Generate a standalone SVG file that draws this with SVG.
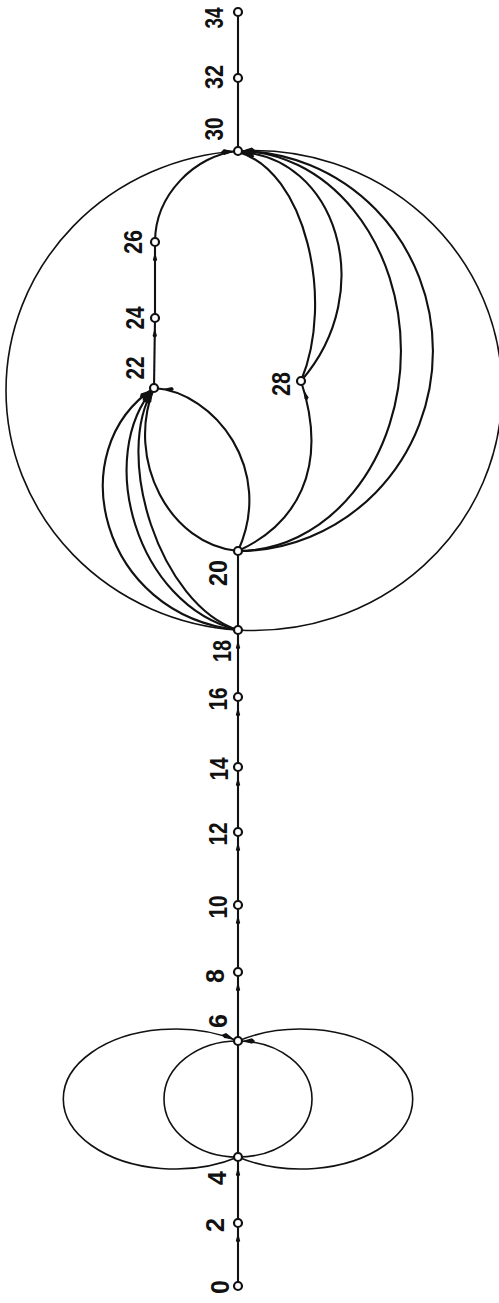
<svg xmlns="http://www.w3.org/2000/svg" width="499" height="1303" viewBox="0 0 499 1303">
<style>
.e{fill:none;stroke:#111;stroke-width:2.1}
.t{fill:none;stroke:#111;stroke-width:1.6}
.n{fill:#fff;stroke:#111;stroke-width:2.2}
.l{font-family:"Liberation Sans",Arial,sans-serif;font-size:25px;font-weight:bold;fill:#111;text-anchor:middle;dominant-baseline:central}
</style>
<defs>
<marker id="a" markerUnits="userSpaceOnUse" viewBox="0 0 10 6" markerWidth="10" markerHeight="6" refX="20" refY="3" orient="auto" overflow="visible">
<path d="M0,3 L2,0.8 L10,3 L2,5.2 z" fill="#111"/>
</marker>
<marker id="c" markerUnits="userSpaceOnUse" viewBox="0 0 13 6" markerWidth="13" markerHeight="6" refX="17" refY="3" orient="auto" overflow="visible">
<path d="M0,3 L3,0.3 L13,3 L3,5.7 z" fill="#111"/>
</marker>
</defs>
<rect width="499" height="1303" fill="#fff"/>
<g id="connectors">
<path class="e" d="M238,1286 L238,1223" marker-end="url(#a)"/>
<path class="e" d="M238,1223 L238,1157" marker-end="url(#a)"/>
<path class="e" d="M238,1157 L238,1041"/>
<path class="e" d="M238,1041 L238,972" marker-end="url(#a)"/>
<path class="e" d="M238,972 L238,905" marker-end="url(#a)"/>
<path class="e" d="M238,905 L238,832" marker-end="url(#a)"/>
<path class="e" d="M238,832 L238,767" marker-end="url(#a)"/>
<path class="e" d="M238,767 L238,697" marker-end="url(#a)"/>
<path class="e" d="M238,697 L238,630" marker-end="url(#a)"/>
<path class="e" d="M238,630 L238,551"/>
<path class="e" d="M154,388 L155,318" marker-end="url(#a)"/>
<path class="e" d="M155,318 L155,242" marker-end="url(#a)"/>
<path class="e" d="M238,151 L238,78"/>
<path class="e" d="M238,78 L238,12"/>
<path class="e" d="M155,242 C155,195 195,155 238,151" marker-end="url(#c)"/>
<path class="t" d="M238,630 A248,240 0 0 1 238,151" marker-end="url(#c)"/>
<path class="t" d="M238,630 A248,240 0 1 0 238,151" marker-end="url(#c)"/>
<path class="e" d="M238,551 A163,200 0 0 0 238,151" marker-end="url(#c)"/>
<path class="e" d="M238,551 A195,200 0 0 0 238,151" marker-end="url(#c)"/>
<path class="e" d="M301,381 C335,300 305,170 238,152" marker-end="url(#c)"/>
<path class="e" d="M301,381 C380,290 335,155 238,152" marker-end="url(#c)"/>
<path class="e" d="M238,551 C295,525 330,470 301,381" marker-end="url(#a)"/>
<path class="e" d="M238,551 C275,470 215,392 154,388" marker-end="url(#a)"/>
<path class="e" d="M238,551 C170,545 125,460 154,388" marker-end="url(#c)"/>
<path class="e" d="M238,630 C100,615 60,450 154,388" marker-end="url(#c)"/>
<path class="e" d="M238,630 C135,605 95,455 154,388" marker-end="url(#c)"/>
<path class="e" d="M238,630 C160,605 112,455 154,388" marker-end="url(#c)"/>
<path class="t" d="M238,1157 A112,70 0 1 1 238,1041" marker-end="url(#c)"/>
<path class="t" d="M238,1157 A112,70 0 1 0 238,1041"/>
<path class="t" d="M238,1157 A74,58 0 0 1 238,1041"/>
<path class="t" d="M238,1157 A74,58 0 0 0 238,1041" marker-end="url(#c)"/>
</g>
<g id="n0"><circle class="n" cx="238" cy="1286" r="4"/><text class="l" transform="translate(220,1287) rotate(-90)">0</text></g>
<g id="n2"><circle class="n" cx="238" cy="1223" r="4"/><text class="l" transform="translate(215,1225) rotate(-90)">2</text></g>
<g id="n4"><circle class="n" cx="238" cy="1157" r="4"/><text class="l" transform="translate(217,1178) rotate(-90)">4</text></g>
<g id="n6"><circle class="n" cx="238" cy="1041" r="4"/><text class="l" transform="translate(218,1021) rotate(-90)">6</text></g>
<g id="n8"><circle class="n" cx="238" cy="972" r="4"/><text class="l" transform="translate(215,976) rotate(-90)">8</text></g>
<g id="n10"><circle class="n" cx="238" cy="905" r="4"/><text class="l" transform="translate(218,907) rotate(-90)" textLength="23" lengthAdjust="spacingAndGlyphs">10</text></g>
<g id="n12"><circle class="n" cx="238" cy="832" r="4"/><text class="l" transform="translate(218,834) rotate(-90)" textLength="23" lengthAdjust="spacingAndGlyphs">12</text></g>
<g id="n14"><circle class="n" cx="238" cy="767" r="4"/><text class="l" transform="translate(219,769) rotate(-90)" textLength="23" lengthAdjust="spacingAndGlyphs">14</text></g>
<g id="n16"><circle class="n" cx="238" cy="697" r="4"/><text class="l" transform="translate(218,699) rotate(-90)" textLength="23" lengthAdjust="spacingAndGlyphs">16</text></g>
<g id="n18"><circle class="n" cx="238" cy="630" r="4"/><text class="l" transform="translate(222,651) rotate(-90)" textLength="22" lengthAdjust="spacingAndGlyphs">18</text></g>
<g id="n20"><circle class="n" cx="238" cy="551" r="4"/><text class="l" transform="translate(218,573) rotate(-90)" textLength="26" lengthAdjust="spacingAndGlyphs">20</text></g>
<g id="n22"><circle class="n" cx="154" cy="388" r="4"/><text class="l" transform="translate(135,368) rotate(-90)" textLength="23" lengthAdjust="spacingAndGlyphs">22</text></g>
<g id="n24"><circle class="n" cx="155" cy="318" r="4"/><text class="l" transform="translate(135,318) rotate(-90)" textLength="23" lengthAdjust="spacingAndGlyphs">24</text></g>
<g id="n26"><circle class="n" cx="155" cy="242" r="4"/><text class="l" transform="translate(133,242) rotate(-90)" textLength="24" lengthAdjust="spacingAndGlyphs">26</text></g>
<g id="n28"><circle class="n" cx="301" cy="381" r="4"/><text class="l" transform="translate(281,384) rotate(-90)" textLength="24" lengthAdjust="spacingAndGlyphs">28</text></g>
<g id="n30"><circle class="n" cx="238" cy="151" r="4"/><text class="l" transform="translate(214,129) rotate(-90)" textLength="23" lengthAdjust="spacingAndGlyphs">30</text></g>
<g id="n32"><circle class="n" cx="238" cy="78" r="4"/><text class="l" transform="translate(214,77) rotate(-90)" textLength="24" lengthAdjust="spacingAndGlyphs">32</text></g>
<g id="n34"><circle class="n" cx="238" cy="12" r="4"/><text class="l" transform="translate(214,18) rotate(-90)" textLength="21" lengthAdjust="spacingAndGlyphs">34</text></g>
</svg>
